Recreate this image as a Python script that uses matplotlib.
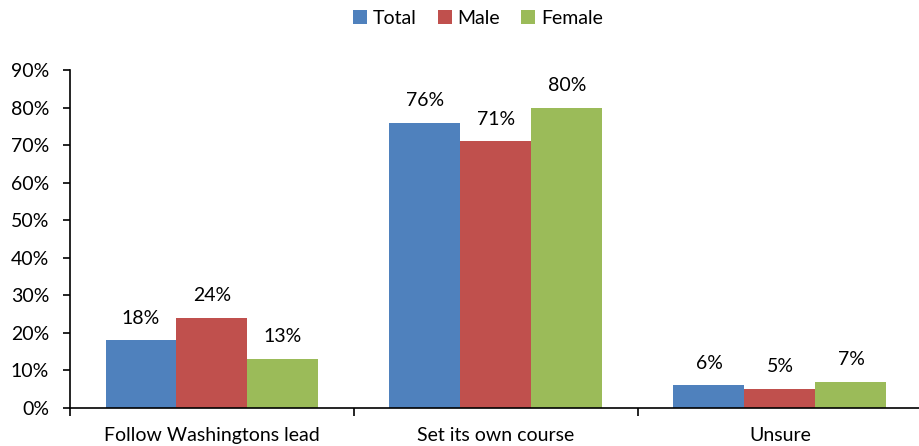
import numpy as np
import matplotlib.pyplot as plt
from matplotlib.ticker import FuncFormatter

categories = ["Follow Washingtons lead", "Set its own course", "Unsure"]
series = ["Total", "Male", "Female"]
total = [18, 76, 6]
male = [24, 71, 5]
female = [13, 80, 7]
colors = ["#4F81BD", "#C0504D", "#9BBB59"]

plt.rcParams['font.family'] = ['Lato', 'DejaVu Sans']

fig = plt.figure(figsize=(9.19, 4.46), dpi=100)
ax = fig.add_axes([70 / 919, 38 / 446, 852 / 919, 338 / 446])

x = np.arange(len(categories))
w = 0.25
for i, (name, vals) in enumerate(zip(series, [total, male, female])):
    pos = x + (i - 1) * w
    bars = ax.bar(pos, vals, w, color=colors[i], label=name)
    for b, v in zip(bars, vals):
        ax.annotate(f"{v}%", (b.get_x() + b.get_width() / 2, v),
                    xytext=(0, 16), textcoords="offset points",
                    ha="center", va="center", fontsize=14)

ax.set_xlim(-0.5, 2.5)
ax.set_ylim(0, 90)
ax.set_yticks(range(0, 91, 10))
ax.yaxis.set_major_formatter(FuncFormatter(lambda v, p: f"{v:.0f}%"))
ax.tick_params(axis='y', labelsize=14, length=5, width=1.2,
               direction='out', pad=10)

ax.set_xticks(x)
ax.set_xticklabels(categories, fontsize=14)
ax.set_xticks([-0.5, 0.5, 1.5, 2.5], minor=True)
ax.tick_params(axis='x', which='major', length=0, pad=14)
ax.tick_params(axis='x', which='minor', length=6, width=1.2, direction='out')

for s in ['top', 'right']:
    ax.spines[s].set_visible(False)
for s in ['left', 'bottom']:
    ax.spines[s].set_linewidth(1.2)

ax.legend(loc='center', bbox_to_anchor=(478 / 919, 1 - 18 / 446),
          bbox_transform=fig.transFigure, ncol=3, frameon=False,
          fontsize=14, handlelength=0.7, handleheight=0.7,
          handletextpad=0.3, columnspacing=1.1)

plt.savefig('out.png', dpi=100)
